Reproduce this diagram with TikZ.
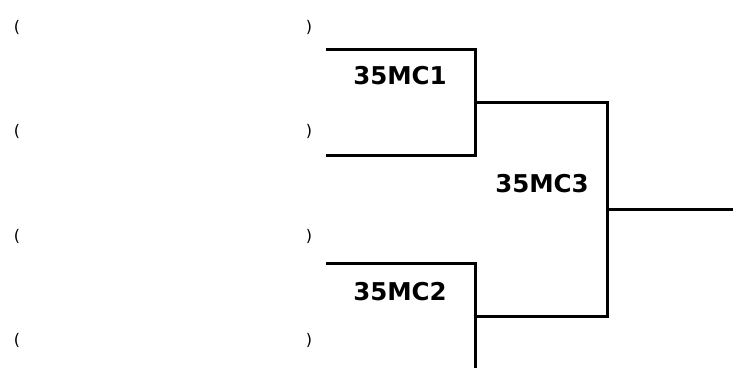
\documentclass[tikz,border=0pt]{standalone}
\usepackage{fontspec}
\setmainfont{DejaVu Sans}
\usetikzlibrary{positioning, calc}
\tikzset{
  bline/.style={line width=3pt, color=black},
  matchlbl/.style={font=\fontsize{24.5}{28}\selectfont\bfseries, inner sep=0pt},
  paren/.style={font=\fontsize{16}{18}\selectfont, inner sep=0pt}
}

\begin{document}
\begin{tikzpicture}[x=1pt, y=-1pt]
  \useasboundingbox (0,0) rectangle (733,368);
  % Entry slots (empty brackets)
  \foreach \i/\y in {1/27, 2/131, 3/236, 4/340} {
    \node[paren] (l\i) at (17,\y) {(};
    \node[paren] (r\i) at (309,\y) {)};
  }

  % First round corners
  \coordinate (m1top) at (326,49);
  \coordinate (m1bot) at (326,155);
  \coordinate (m1out) at (475,102);
  \coordinate (m2top) at (326,263);
  \coordinate (m2bot) at (475,368);
  \coordinate (m2out) at (475,316);
  % Final
  \coordinate (m3out) at (607,209);
  \coordinate (winner) at (733,209);

  % Match 1
  \draw[bline] (m1top) -| (m1out) |- (m1bot);
  \node[matchlbl] (mc1) at (400,76) {35MC1};
  % Match 2
  \draw[bline] (m2top) -| (m2bot);
  \node[matchlbl] (mc2) at (400,292) {35MC2};
  % Match 3
  \draw[bline] (m1out) -| (m3out) |- (m2out);
  \draw[bline] (m3out) -- (winner);
  \node[matchlbl] (mc3) at (542,184) {35MC3};
\end{tikzpicture}
\end{document}
